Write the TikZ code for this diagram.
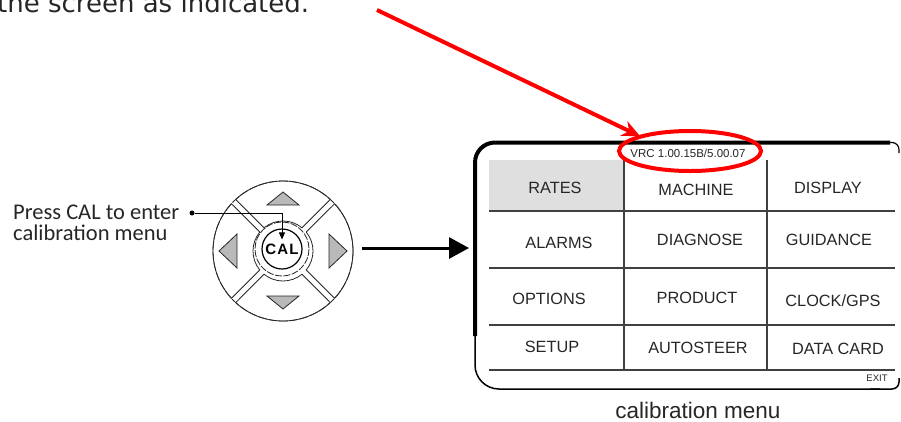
\documentclass[tikz,border=0pt]{standalone}
\usepackage{fontspec}
\setmainfont{Liberation Sans}
\newfontfamily\notefont{DejaVu Sans}
\newfontfamily\labelfont{Carlito}
\usetikzlibrary{arrows.meta, shapes.geometric}

\begin{document}
\begin{tikzpicture}[x=1pt, y=-1pt, >=Stealth,
    menutext/.style={font=\fontsize{16.3}{18}\selectfont, text=black!85, inner sep=0pt},
    gridline/.style={line width=1.1pt, black!75},
    keyline/.style={line width=0.8pt, black!85},
    arrowkey/.style={keyline, fill=gray!55}]
    \useasboundingbox (0,0) rectangle (901,421);

    % Dòng chữ phía trên (bị cắt)
    \node[anchor=base west, inner sep=0pt, font=\notefont\fontsize{26}{28}\selectfont, text=black!85] (note) at (-3,12) {the screen as indicated.};
    \coordinate (redstart) at (377,10);

    % Màn hình
    \fill[gray!25] (489,160) rectangle (624,211);
    \draw[line width=4pt, rounded corners=20pt] (475,336) -- (475,142.5) -- (890,142.5);
    \draw[line width=1.2pt, rounded corners=7pt] (886,142.5) -- (899,142.5) -- (899,153);
    \draw[line width=1.5pt, rounded corners=24pt] (475,330) -- (475,389) -- (880,389);
    \draw[line width=1.5pt, rounded corners=7pt] (870,389) -- (899,389) -- (899,378);
    \coordinate (screenleft) at (469,248);

    % Lưới menu
    \draw[gridline] (489,211) -- (895,211) (489,268) -- (895,268)
        (489,325) -- (895,325) (489,370) -- (895,370)
        (624,160) -- (624,370) (767,160) -- (767,370);

    % Các mục menu
    \node[menutext] (rates) at (555,188) {RATES};
    \node[menutext] (machine) at (696,190) {MACHINE};
    \node[menutext] (display) at (828,188) {DISPLAY};
    \node[menutext] (alarms) at (559,243) {ALARMS};
    \node[menutext] (diagnose) at (700,240) {DIAGNOSE};
    \node[menutext] (guidance) at (829,240) {GUIDANCE};
    \node[menutext] (options) at (549,299) {OPTIONS};
    \node[menutext] (product) at (697,298) {PRODUCT};
    \node[menutext] (clockgps) at (833,301) {CLOCK/GPS};
    \node[menutext] (setup) at (552,347) {SETUP};
    \node[menutext] (autosteer) at (698,348) {AUTOSTEER};
    \node[menutext] (datacard) at (838,349) {DATA CARD};
    \node[menutext, font=\fontsize{9.5}{11}\selectfont] (exit) at (877,378) {EXIT};
    \node[menutext, font=\fontsize{11.5}{13}\selectfont] (vrc) at (688,153) {VRC 1.00.15B/5.00.07};
    \node[anchor=base, inner sep=0pt, font=\fontsize{22.5}{26}\selectfont, text=black!85] (calmenu) at (698,418) {calibration menu};

    % Khoanh đỏ và mũi tên đỏ
    \node[ellipse, draw=red, line width=4pt, minimum width=142, minimum height=40] (vrcmark) at (690,151) {};
    \draw[red, line width=4pt, -{Stealth[length=18pt, width=16pt]}, shorten >=-2pt] (redstart) -- (vrcmark.north west);

    % Bàn phím
    \node[circle, draw, keyline, dash pattern=on 9pt off 1.5pt, minimum size=140, inner sep=0pt] (keypad) at (283,251) {};
    \begin{scope}[shift={(283,251)}]
        \draw[keyline] (-42.5:70) arc[start angle=-42.5, end angle=42.5, radius=70] -- (39.3:30) arc[start angle=39.3, end angle=-39.3, radius=30] -- cycle;
        \draw[keyline] (47.5:70) arc[start angle=47.5, end angle=132.5, radius=70] -- (129.3:30) arc[start angle=129.3, end angle=50.7, radius=30] -- cycle;
        \draw[keyline] (137.5:70) arc[start angle=137.5, end angle=222.5, radius=70] -- (219.3:30) arc[start angle=219.3, end angle=140.7, radius=30] -- cycle;
        \draw[keyline] (227.5:70) arc[start angle=227.5, end angle=312.5, radius=70] -- (309.3:30) arc[start angle=309.3, end angle=230.7, radius=30] -- cycle;
        \draw[arrowkey] (0,-59) -- (-16,-46) -- (16,-46) -- cycle;
        \draw[arrowkey] (0,58) -- (-16,45) -- (16,45) -- cycle;
        \draw[arrowkey] (-64,0) -- (-46,-17) -- (-46,17) -- cycle;
        \draw[arrowkey] (64,0) -- (46,-17) -- (46,17) -- cycle;
    \end{scope}

    % Nút CAL
    \draw[keyline, dash pattern=on 7pt off 1.5pt] (282,249) circle[radius=27];
    \draw[line width=1.2pt] (282,249) circle[radius=20];
    \node[font=\bfseries\fontsize{15}{17}\selectfont, inner sep=4pt] (cal) at (282,249) {C\kern1.2pt A\kern1.2pt L};

    % Chú thích bên trái
    \node[anchor=north west, align=left, inner sep=0pt, font=\labelfont\fontsize{22.5}{21}\selectfont, text=black!85] (presscal) at (13,205) {Press CAL to enter\\calibration menu};
    \node[circle, fill, inner sep=0pt, minimum size=5pt] (dot) at (192,213) {};
    \draw[line width=0.8pt, -{Triangle[length=7pt, width=6pt]}] (dot) -| (cal.north);

    % Mũi tên sang màn hình
    \draw[line width=3pt, -{Triangle[length=20pt, width=21pt]}, shorten <=9pt] (keypad.east |- screenleft) -- (screenleft);

\end{tikzpicture}
\end{document}
